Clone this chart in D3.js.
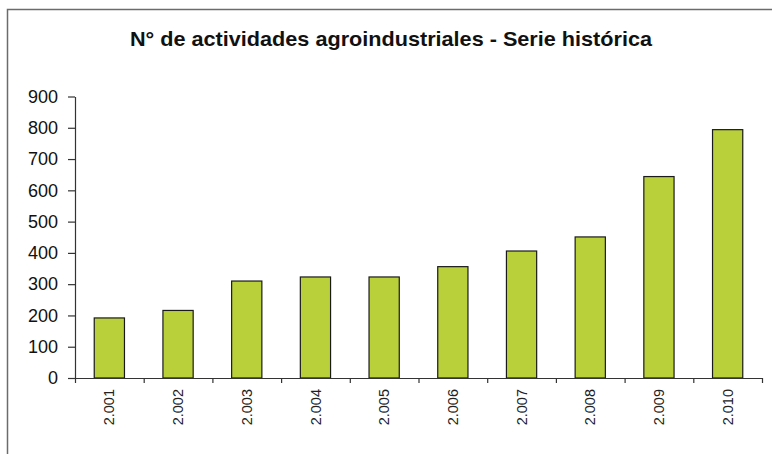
<!DOCTYPE html>
<html>
<head>
<meta charset="utf-8">
<script src="https://cdn.jsdelivr.net/npm/d3@7"></script>
<style>
  body { margin: 0; background: #fff; }
  svg { display: block; font-family: "Liberation Sans", Arial, sans-serif; }
</style>
</head>
<body>
<div id="chart"></div>
<script>
// data
var years = ["2.001", "2.002", "2.003", "2.004", "2.005", "2.006", "2.007", "2.008", "2.009", "2.010"];
var values = [192, 216, 310, 323, 323, 356, 406, 451, 644, 794];
var yTicks = [0, 100, 200, 300, 400, 500, 600, 700, 800, 900];

var width = 772, height = 454;
var plot = { left: 75, right: 762, top: 96.5, bottom: 378 };

var svg = d3.select("#chart").append("svg")
	.attr("width", width)
	.attr("height", height);

// frame
svg.append("rect")
	.attr("x", 7.5).attr("y", 9.5)
	.attr("width", 800).attr("height", 500)
	.attr("fill", "none")
	.attr("stroke", "#6b6b6b")
	.attr("stroke-width", 1.5);

// title
svg.append("text")
	.attr("x", 391).attr("y", 46)
	.attr("text-anchor", "middle")
	.attr("font-size", 21)
	.attr("font-weight", "bold")
	.attr("textLength", 522)
	.attr("lengthAdjust", "spacingAndGlyphs")
	.attr("fill", "#111")
	.text("N° de actividades agroindustriales - Serie histórica");

var x = d3.scaleBand().domain(years).range([plot.left, plot.right]).padding(0);
var xEdge = d3.scaleLinear().domain([0, years.length]).range([plot.left, plot.right]);
var y = d3.scaleLinear().domain([0, 900]).range([plot.bottom, plot.top]);

// bars
var bw = x.bandwidth() * 0.44;
svg.append("g").selectAll("rect")
	.data(values)
	.enter()
	.append("rect")
	.attr("x", function(d, i) { return x(years[i]) + (x.bandwidth() - bw) / 2; })
	.attr("y", function(d) { return y(d); })
	.attr("width", bw)
	.attr("height", function(d) { return plot.bottom - y(d); })
	.attr("fill", "#bad03b")
	.attr("stroke", "#1a1a1a")
	.attr("stroke-width", 1.2);

// y axis
var yAxis = svg.append("g")
	.attr("transform", "translate(" + plot.left + ",0)")
	.call(d3.axisLeft(y).tickValues(yTicks).tickSize(7).tickSizeOuter(0).tickPadding(10));
yAxis.selectAll("text").attr("font-size", 18).attr("fill", "#111").attr("font-family", "Liberation Sans, Arial, sans-serif");
yAxis.selectAll("line, path").attr("stroke", "#333").attr("stroke-width", 1.2);

// x axis, ticks between categories
var xAxis = svg.append("g")
	.attr("transform", "translate(0," + plot.bottom + ")")
	.call(d3.axisBottom(xEdge).tickValues(d3.range(0, years.length + 1)).tickFormat("").tickSize(5).tickSizeOuter(0));
xAxis.selectAll("line, path").attr("stroke", "#333").attr("stroke-width", 1.2);

// rotated category labels
svg.append("g").selectAll("text")
	.data(years)
	.enter()
	.append("text")
	.attr("transform", function(d) { return "translate(" + (x(d) + x.bandwidth() / 2) + ",389) rotate(-90)"; })
	.attr("text-anchor", "end")
	.attr("dy", "0.35em")
	.attr("font-size", 14.5)
	.attr("fill", "#222")
	.text(function(d) { return d; });
</script>
</body>
</html>
